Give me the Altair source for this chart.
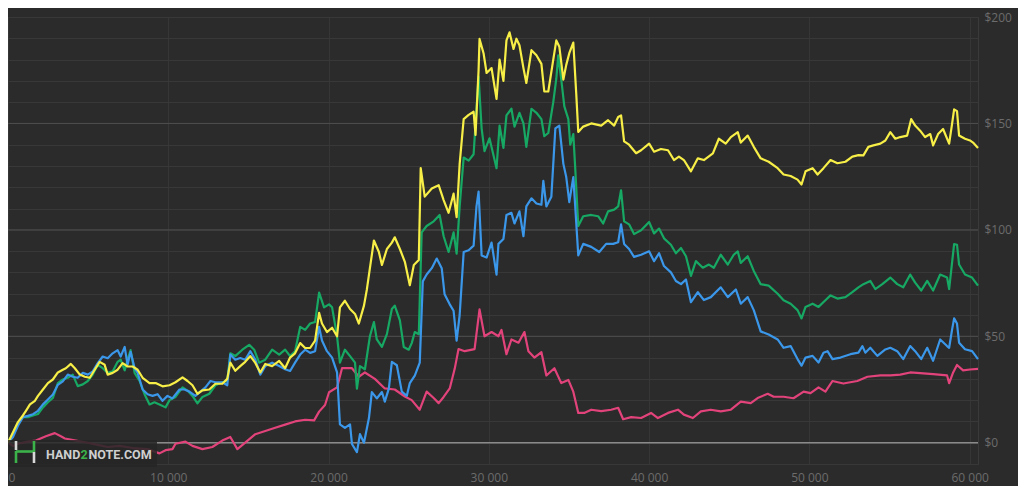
import altair as alt
import pandas as pd

# (hands played, winnings $)
yellow = [(0,0),(620,9.7),(930,12.8),(1120,15),(1370,18),(1680,19.7),(1870,22),(2180,25),(2490,28),(2800,29.7),(3110,33),(3420,34.3),(3610,35),(3920,37),(4170,35),(4480,32),(4790,31),(5100,30.5),(5410,34.3),(5720,38),(6030,36.6),(6220,32),(6530,32.8),(6840,34.3),(7150,37.4),(7460,35.8),(7780,35.8),(8090,34.3),(8400,30.5),(8830,28),(9210,28),(9640,26.5),(10080,27),(10450,28.4),(10890,30.7),(11200,29),(11510,27),(11820,23),(12130,24.6),(12560,25),(12940,27.7),(13370,27.7),(13680,30),(13870,37.6),(14180,33.8),(14490,36),(14800,38),(15120,40.7),(15430,37.5),(15740,33),(16050,37),(16480,36),(16920,38.4),(17290,35),(17600,40),(17910,42),(18230,46.8),(18540,44.5),(18850,44.5),(19160,48),(19410,61),(19590,56),(19900,52),(20220,54),(20530,50),(20710,63.6),(21020,66.7),(21340,62.8),(21650,60.5),(21890,56),(22210,64.4),(22390,72),(22580,82),(22830,95),(23140,89.6),(23330,83.5),(23640,91),(23950,94),(24130,96.5),(24450,91),(24760,85),(25070,74),(25320,83.5),(25630,85.8),(25750,129),(26000,115.6),(26440,119.4),(26870,121),(27180,114),(27490,108),(27800,117),(27990,106),(28180,131),(28430,152),(28740,154),(29050,155.5),(29170,144.6),(29360,175),(29420,189.7),(29670,183),(29860,173.7),(30170,176),(30480,161.5),(30670,180),(30910,170),(31100,189),(31290,192.8),(31540,185),(31720,189.8),(31910,186.7),(32160,176),(32340,169),(32660,184.4),(32970,182),(33280,178),(33460,165),(33710,165),(34020,180),(34210,189),(34400,186),(34650,170.6),(34830,177.5),(35020,183),(35270,188),(35450,164.5),(35580,146),(35890,148.5),(36390,150),(37010,149),(37440,151.5),(37820,149),(38070,153),(38250,153.8),(38440,141.6),(38750,140),(39190,136),(39500,137.4),(40000,140.5),(40310,136.7),(40740,138),(41180,137.4),(41550,132.8),(41860,134.4),(42170,132.8),(42610,127.5),(43040,133.6),(43420,132.8),(43980,135.9),(44350,142.8),(44780,140.5),(45100,143.6),(45530,145.9),(45720,141),(46150,144.3),(46530,139),(46960,133.6),(47460,132),(48020,129),(48390,126),(48830,125.3),(49260,123.6),(49510,121.3),(49760,127.5),(50200,129),(50510,126),(50880,129),(51320,132.8),(51750,131.3),(52250,132),(52680,134.4),(53060,135.1),(53370,135),(53680,139),(53990,139.7),(54430,140.5),(54740,142),(55050,145.9),(55360,142.8),(55670,143.6),(56100,144.3),(56350,152),(56600,149),(56910,146.6),(57220,143.6),(57540,145),(57720,139.7),(58030,145),(58340,147.4),(58720,140.5),(58900,149.7),(59030,156.6),(59210,155.8),(59340,144.3),(59710,142.8),(60020,142),(60210,141),(60520,138.5)]

green = [(0,0),(620,8.9),(930,12),(1240,12),(1560,12.8),(1870,13.5),(2180,16.6),(2490,19),(2800,21),(3110,28),(3420,29.7),(3730,30.5),(4040,32),(4350,26.6),(4670,27.4),(4980,29),(5290,32),(5600,36.6),(5910,35),(6220,32.8),(6530,33.5),(6840,38),(7030,39),(7280,34),(7460,39),(7650,43.5),(7900,32.8),(8210,29),(8520,22.8),(8830,18),(9140,19),(9450,18),(9830,16.6),(10080,20),(10450,21.5),(10890,26),(11200,24.5),(11510,22),(11820,18.5),(12130,21.5),(12560,23),(12940,27),(13370,28.4),(13680,29),(13870,42),(14180,40.7),(14620,43.7),(15050,46),(15360,43.7),(15670,37.6),(16050,39),(16480,43.7),(16920,41.4),(17290,43.7),(17600,40.7),(17910,43),(18230,54.4),(18540,53),(18850,56),(19160,56.7),(19410,70.5),(19720,63.6),(20030,65),(20220,63.6),(20530,50),(20710,37.6),(21020,43.7),(21340,40.7),(21650,37.6),(21770,25.4),(21960,36),(22270,34.5),(22580,50),(22830,56.7),(23010,48.5),(23330,45),(23640,51),(23950,62.8),(24130,64.4),(24450,57.5),(24690,45),(25000,43.7),(25190,46.8),(25380,52),(25630,51),(25810,98.8),(26120,101.8),(26560,104),(26930,107),(27180,97),(27490,89.6),(27800,98.8),(27990,88.8),(28180,111),(28430,134),(28740,132.5),(29050,135.5),(29230,156.9),(29360,172),(29550,147.7),(29730,137),(30040,143),(30480,129),(30670,149),(30910,138.5),(31100,153.8),(31410,156.9),(31600,148.5),(31910,155),(32160,150),(32340,139),(32660,156.9),(32970,155),(33280,152),(33460,144),(33710,145.5),(34020,160),(34210,171),(34330,182),(34520,170.6),(34710,158),(34960,152),(35080,140),(35270,145),(35390,129),(35580,101.8),(35890,106.4),(36390,107),(36820,106.4),(37130,103),(37440,108.7),(37820,109.5),(38070,111),(38250,118.6),(38440,104),(38750,102.6),(39060,98),(39500,99.8),(40000,103.7),(40310,98.3),(40620,100.6),(40930,96),(41360,93),(41670,89),(41990,91.5),(42300,87.6),(42610,78.4),(42920,85.3),(43350,82.2),(43730,83.7),(44040,82.2),(44470,88.3),(44910,83.7),(45280,88.3),(45530,89.9),(45720,84.5),(46150,87.6),(46530,80.7),(46960,74.5),(47460,73.8),(48020,70),(48390,66.9),(48830,65.3),(49260,62.3),(49510,58.4),(49760,63.8),(50200,65.3),(50570,63.8),(51000,66.9),(51320,69.2),(51750,67.7),(52250,68.4),(52680,70.7),(53060,73),(53370,74.5),(53800,76),(54110,72.2),(54550,74.5),(55050,77.6),(55480,74.5),(55860,73),(56290,79),(56600,75.2),(56980,71.5),(57350,76),(57720,71.5),(58160,79),(58590,77.6),(58720,72.2),(58900,84.5),(59030,93.3),(59210,93),(59340,83.7),(59710,79),(60150,77.6),(60520,73.8)]

blue = [(0,0),(310,2.7),(620,8),(930,12),(1240,12.6),(1560,13.4),(1870,15),(2180,18),(2490,20.3),(2800,22.7),(3110,27.2),(3420,28.8),(3730,32),(4040,31),(4350,30.5),(4670,32.8),(4980,32),(5290,33.5),(5600,37.4),(5910,40.5),(6220,39.7),(6530,42),(6840,43.5),(7030,40.5),(7280,45),(7460,36.6),(7650,42.7),(7900,35),(8090,32.8),(8400,25),(8710,22.8),(9020,22),(9330,22.8),(9640,19.7),(9950,22),(10260,20.8),(10700,25),(11010,25),(11320,24),(11690,22),(12000,24),(12320,26),(12630,29),(12940,28.4),(13370,28.4),(13680,27),(13870,41.4),(14180,39),(14490,39.8),(14800,39),(15120,43),(15430,39),(15740,32),(16050,36),(16480,37.6),(16920,36),(17290,34.5),(17600,33.7),(17910,37.6),(18230,41.4),(18540,43.7),(18850,42.2),(19160,43),(19410,54.4),(19590,48),(19900,43),(20220,40),(20530,33),(20710,8.6),(21020,7),(21340,8.6),(21460,-0.6),(21770,-4.4),(21960,4),(22210,0),(22520,11.6),(22700,23.8),(23010,20.8),(23330,23.8),(23510,19.3),(23760,25.4),(23950,38),(24260,36.4),(24570,24),(24880,22),(25070,28),(25380,31.5),(25690,37.6),(25880,75.8),(26120,79),(26440,82),(26750,86.5),(27060,82),(27240,69.7),(27560,65),(27800,62),(27990,48),(28180,60),(28430,89.6),(28740,90.4),(29050,92.6),(29230,111),(29360,118),(29550,88),(29860,87),(30170,94),(30480,79),(30600,93.4),(30910,95.7),(31100,107),(31410,108),(31600,103),(31910,108.7),(32160,97),(32340,111),(32660,114.8),(32970,112.4),(33280,111.8),(33400,123),(33590,111),(33900,115.5),(34150,147.7),(34400,149),(34650,131),(34830,124.8),(35020,113),(35270,124.8),(35390,111),(35580,88),(35890,93.4),(36390,92),(36890,89.6),(37320,93.4),(37760,93.4),(38070,94.2),(38250,102.6),(38440,93.4),(38750,91),(39060,87.3),(39500,88.3),(40000,89.9),(40310,85.3),(40620,89),(40930,83),(41360,80),(41670,76),(41990,74.5),(42300,76.7),(42610,66),(43040,70.7),(43420,67),(43850,68.4),(44470,73),(44910,68.4),(45410,72),(45720,65.3),(46150,68.4),(46530,62.3),(46960,52.3),(47460,50.8),(48020,48.5),(48390,44.6),(48830,45.4),(49260,39.3),(49510,36.2),(49760,40),(50200,40.8),(50570,37.7),(50880,42.3),(51130,43),(51440,39.3),(51940,40),(52560,41.6),(53060,42.3),(53310,45.4),(53490,42.3),(53800,44.6),(54240,40.8),(54740,43.8),(55050,44.6),(55480,43),(55860,39.3),(56290,45.4),(56600,43),(56980,39.3),(57350,44.6),(57720,38.5),(58160,48.5),(58590,45.4),(58720,44.6),(58900,53),(59030,58.4),(59210,56),(59340,47),(59710,43.9),(60150,43),(60520,39.3)]

pink = [(0,0),(310,-1.5),(620,-0.5),(1240,0.5),(1740,1),(2360,3),(2920,4.5),(3300,3),(3550,2),(4230,1),(4980,0),(5600,-1),(6220,-2),(6970,-1.5),(7780,-2.5),(8710,-3),(9450,-5),(9830,-3.5),(10260,-3),(10450,-0.5),(11070,0.5),(11510,-1.5),(12130,-3),(12750,-2),(13370,1),(13870,2.7),(14310,-3),(14800,0),(15430,4),(16050,5.5),(16670,7),(17290,8.5),(17910,10),(18540,10.8),(19100,10.5),(19410,14.6),(19780,17.7),(20030,23.7),(20530,26),(20840,35),(21460,35),(21890,31),(22270,33),(22890,30),(23510,25.5),(24130,25),(24760,21.7),(25190,20),(25690,15.5),(26120,24),(26560,21),(26870,18.6),(27180,21.5),(27560,25.5),(27870,34.7),(28110,44),(28490,43),(29110,44),(29420,62.6),(29730,50),(30170,52),(30600,50),(30790,53),(31100,41.6),(31410,48.5),(31850,47),(32220,52),(32470,43),(32840,40),(33280,42.5),(33590,31.6),(34090,35),(34520,28),(34960,29.5),(35270,24),(35580,14),(35950,14),(36390,15.5),(37010,14.8),(37630,15.5),(38070,16.4),(38380,11),(38880,12),(39500,11.6),(40120,14),(40550,11.6),(41180,14),(41800,15.5),(42170,13.2),(42730,11.6),(43230,14.7),(43850,15.5),(44470,14.7),(45100,15.5),(45720,19.3),(46340,18.6),(46770,21),(47400,23),(47770,21.6),(48390,21.6),(49010,20.9),(49640,24),(50070,23.3),(50570,26),(51000,24),(51440,29),(52120,27.8),(52990,29),(53620,31),(54430,31.6),(55050,31.6),(55670,32),(56290,33),(56910,32.7),(57720,32.2),(58590,31.6),(58720,28),(58970,33),(59210,36.5),(59590,34),(60020,34.4),(60520,34.7)]

series_names = ["Non-showdown", "Net won", "Showdown", "All-in EV"]   # drawing order
series_colors = ["#e2437a", "#17a864", "#3b97ea", "#f7ef47"]
x_ticks = [0, 10000, 20000, 30000, 40000, 50000, 60000]
y_grid = list(range(-10, 201, 10))
major_levels = [50, 100, 150]
zero_level = [0]

rows = []
for name, pts in zip(series_names, [pink, green, blue, yellow]):
    for h, v in pts:
        rows.append({"series": name, "hands": h, "won": v})
df = pd.DataFrame(rows)

FONT = "Open Sans"
xscale = alt.Scale(domain=[0, 60520], nice=False, zero=False)
yscale = alt.Scale(domain=[-10, 200], nice=False, zero=False)
x_axis = alt.Axis(values=x_ticks, title=None, ticks=False, domain=False,
                  labelExpr="replace(format(datum.value, ','), ',', ' ')",
                  labelColor="#6c6c6c", labelFont=FONT, labelFontSize=12,
                  labelPadding=8, labelFlush=True,
                  grid=True, gridColor="#363636", gridWidth=1)
y_axis = alt.Axis(values=y_grid, orient="right", title=None, ticks=False, domain=False,
                  labelExpr="(datum.value % 50 === 0 && datum.value >= 0) ? '$' + datum.value : ''",
                  labelColor="#6c6c6c", labelFont=FONT, labelFontSize=12,
                  labelPadding=6, labelOverlap=False,
                  grid=True, gridColor="#383838", gridWidth=1)

layers = []
layers.append(alt.Chart(pd.DataFrame({"level": major_levels})).mark_rule(
    color="#4e4e4e", strokeWidth=1).encode(y=alt.Y("level:Q", scale=yscale, axis=y_axis)))
layers.append(alt.Chart(pd.DataFrame({"level": zero_level})).mark_rule(
    color="#8a8a8a", strokeWidth=1.5).encode(y=alt.Y("level:Q", scale=yscale, axis=y_axis)))

for name, col in zip(series_names, series_colors):
    layers.append(alt.Chart(df).transform_filter(alt.datum.series == name).mark_line(
        color=col, strokeWidth=2.2, strokeJoin="round").encode(
        x=alt.X("hands:Q", scale=xscale, axis=x_axis),
        y=alt.Y("won:Q", scale=yscale, axis=y_axis),
        order="hands:Q"))

# watermark
one = pd.DataFrame({"k": [0]})
layers.append(alt.Chart(one).mark_rect(color="#262626", opacity=0.85).encode(
    x=alt.value(0), x2=alt.value(149), y=alt.value(423), y2=alt.value(450)))
logo_parts = [
    (8, 8, 424, 433, "#d8d8d8"),
    (8, 8, 434, 446, "#3cb34a"),
    (8, 26, 434.5, 434.5, "#3cb34a"),
    (26, 26, 424, 435, "#3cb34a"),
    (26, 26, 435, 446, "#d8d8d8"),
]
for x1, x2, y1, y2, c in logo_parts:
    layers.append(alt.Chart(one).mark_rule(color=c, strokeWidth=2.6).encode(
        x=alt.value(x1), x2=alt.value(x2), y=alt.value(y1), y2=alt.value(y2)))
for txt, xpos, c in [("HAND", 38, "#cfcfcf"), ("2", 72.5, "#3cb34a"), ("NOTE.COM", 80.5, "#cfcfcf")]:
    layers.append(alt.Chart(pd.DataFrame({"t": [txt]})).mark_text(
        align="left", baseline="alphabetic", font="Roboto", fontWeight="bold",
        fontSize=12.5, color=c).encode(text="t:N", x=alt.value(xpos), y=alt.value(441.5)))

chart = alt.layer(*layers).properties(
    width=970, height=447,
    background="#2b2b2b",
    padding={"left": 0, "top": 9, "right": 40, "bottom": 22},
    autosize=alt.AutoSizeParams(type="none"),
).configure_view(stroke="#3a3a3a", strokeWidth=1)

chart.save("out.html", embed_options={"renderer": "svg", "actions": False})
